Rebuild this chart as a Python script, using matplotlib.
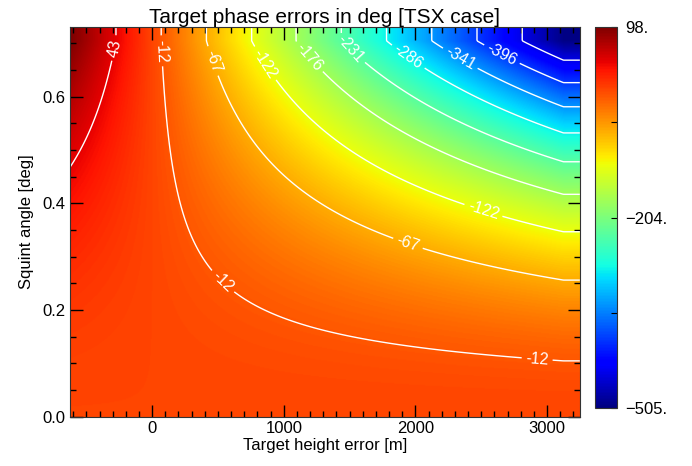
import numpy as np
import matplotlib.pyplot as plt
from matplotlib.ticker import MultipleLocator, FormatStrFormatter

plt.rcParams['font.family'] = ['Liberation Sans', 'DejaVu Sans']

# displayed grid ranges
height_span = [-625, 3250]      # target height error [m]
squint_span = [0.0, 0.73]       # squint angle [deg]
# last computed sample on each axis, edge values repeat past it
height_last = 3125
squint_last = 0.705

# phase error [deg] = phase_offset + phase_slope * height * squint^2
phase_offset = -1.0
phase_slope = -0.322

cbar_limits = [-505, 98]
cbar_ticks = [-505, -354.25, -204, -52.75, 98]
cbar_labels = ['\u2212505.', '', '\u2212204.', '', '98.']

levels = [-451, -396, -341, -286, -231, -176, -122, -67, -12, 43]
level_text = ['-451', '-396', '-341', '-286', '-231', '-176', '-122', '-67', '-12', '43']

# where the contour labels sit (height, squint)
label_spots = [(-297, 0.692), (58, 0.686), (459, 0.667), (829, 0.658),
               (1176, 0.671), (1507, 0.690), (1945, 0.675), (2338, 0.671),
               (2662, 0.682), (527, 0.251), (1945, 0.326), (2511, 0.382),
               (2926, 0.111)]

h = np.linspace(height_span[0], height_span[1], 600)
th = np.linspace(squint_span[0], squint_span[1], 400)
H, TH = np.meshgrid(h, th)
Hc = np.clip(H, None, height_last)
THc = np.clip(TH, None, squint_last)
phase = phase_offset + phase_slope * Hc * THc**2

fig = plt.figure(figsize=(6.92, 4.66), dpi=100)
ax = fig.add_axes([0.101, 0.106, 0.737, 0.835])

im = ax.imshow(phase, origin='lower', aspect='auto', cmap='jet',
               extent=[height_span[0], height_span[1], squint_span[0], squint_span[1]],
               vmin=cbar_limits[0], vmax=cbar_limits[1], interpolation='bilinear')

cs = ax.contour(H, TH, phase, levels=levels, colors='white', linewidths=1.0,
                linestyles='solid')
ax.clabel(cs, levels=levels, fmt=dict(zip(levels, level_text)), fontsize=11.5,
          inline=True, inline_spacing=4, manual=label_spots)

ax.set_xlim(height_span)
ax.set_ylim(squint_span)
ax.xaxis.set_major_locator(MultipleLocator(1000))
ax.xaxis.set_minor_locator(MultipleLocator(100))
ax.yaxis.set_major_locator(MultipleLocator(0.2))
ax.yaxis.set_minor_locator(MultipleLocator(0.05))
ax.yaxis.set_major_formatter(FormatStrFormatter('%.1f'))
ax.tick_params(which='both', direction='in', top=True, right=True, labelsize=12)
ax.tick_params(which='major', length=9, width=1)
ax.tick_params(which='minor', length=4.5, width=1)
for sp in ax.spines.values():
    sp.set_color('#333333')

ax.set_title('Target phase errors in deg [TSX case]', fontsize=15, pad=3)
ax.set_xlabel('Target height error [m]', fontsize=12, labelpad=1)
ax.set_ylabel('Squint angle [deg]', fontsize=12, labelpad=6)

cax = fig.add_axes([0.860, 0.1245, 0.032, 0.8176])
cb = fig.colorbar(im, cax=cax, ticks=cbar_ticks)
cb.ax.set_yticklabels(cbar_labels)
cb.ax.tick_params(direction='in', length=4, labelsize=12, pad=6)
cb.outline.set_edgecolor('#333333')

fig.savefig('out.png', dpi=100)
